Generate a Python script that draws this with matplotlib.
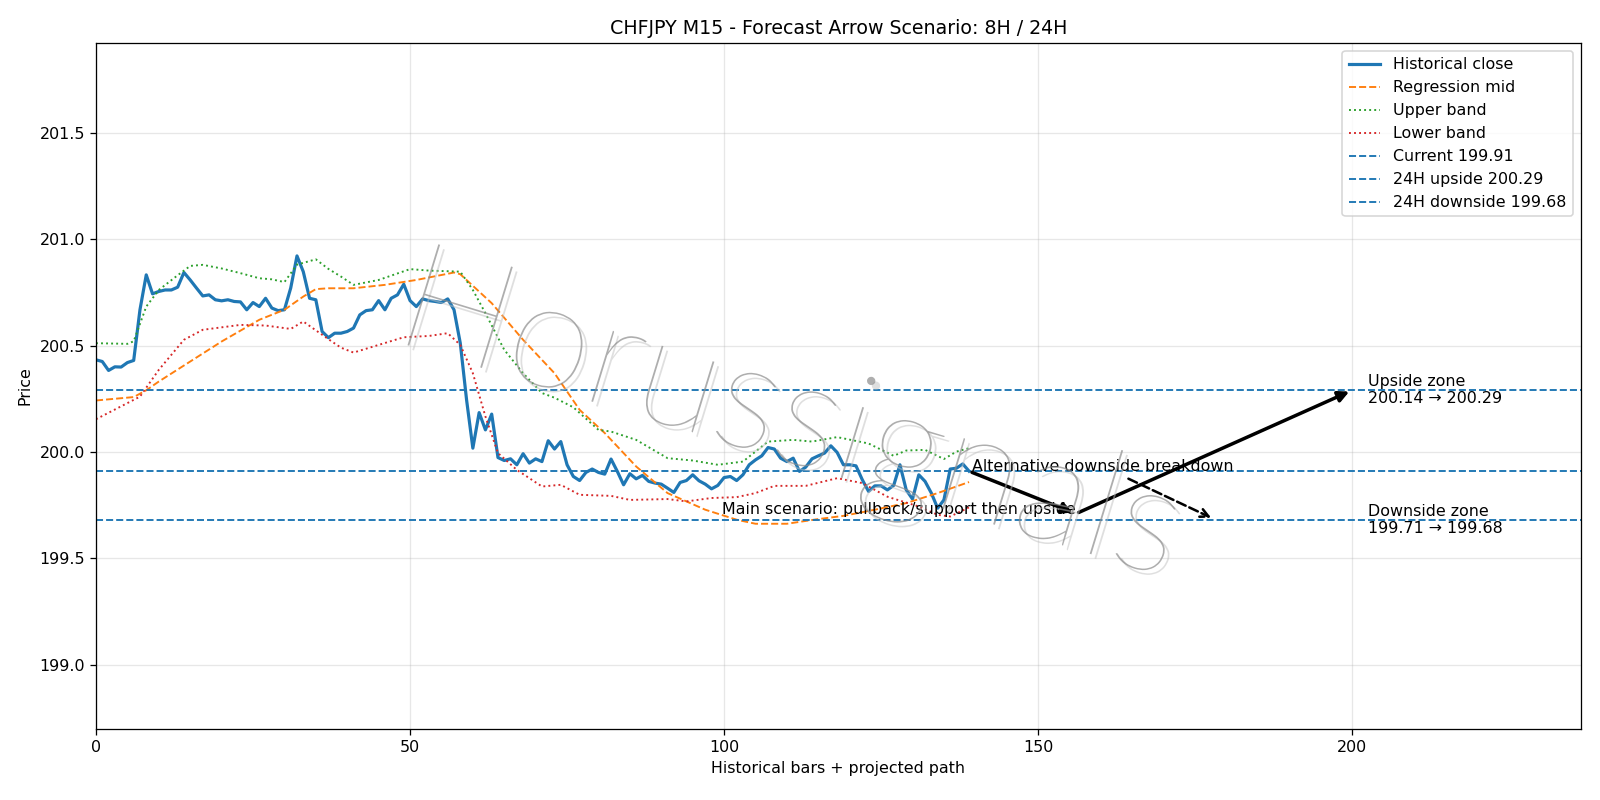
import matplotlib
matplotlib.use("Agg")
import matplotlib.pyplot as plt
import matplotlib.patheffects as pe

# --- data ---
close = [
    200.433, 200.425, 200.383, 200.400, 200.399, 200.420, 200.430, 200.668, 200.832, 200.743,
    200.754, 200.761, 200.761, 200.774, 200.843, 200.808, 200.770, 200.733, 200.738, 200.715,
    200.710, 200.715, 200.707, 200.705, 200.668, 200.702, 200.683, 200.722, 200.676, 200.664,
    200.668, 200.770, 200.921, 200.847, 200.722, 200.715, 200.566, 200.537, 200.558, 200.558,
    200.566, 200.582, 200.644, 200.664, 200.668, 200.711, 200.668, 200.722, 200.738, 200.788,
    200.711, 200.683, 200.719, 200.711, 200.707, 200.702, 200.719, 200.668, 200.511, 200.245,
    200.018, 200.185, 200.104, 200.178, 199.974, 199.960, 199.968, 199.940, 199.992, 199.948,
    199.968, 199.955, 200.053, 200.014, 200.049, 199.940, 199.885, 199.866, 199.904, 199.920,
    199.904, 199.896, 199.967, 199.909, 199.846, 199.898, 199.874, 199.890, 199.862, 199.854,
    199.849, 199.830, 199.810, 199.857, 199.866, 199.893, 199.865, 199.849, 199.827, 199.843,
    199.880, 199.885, 199.866, 199.893, 199.940, 199.963, 199.982, 200.021, 200.014, 199.971,
    199.955, 199.971, 199.909, 199.929, 199.968, 199.982, 199.995, 200.029, 199.998, 199.940,
    199.940, 199.935, 199.870, 199.815, 199.841, 199.841, 199.822, 199.843, 199.940, 199.822,
    199.779, 199.893, 199.862, 199.807, 199.736, 199.775, 199.920, 199.924, 199.944, 199.910,
]

mid_x = [0, 6, 8, 10, 15, 20, 26, 30, 33, 35, 37, 41, 46, 51, 57, 58, 63, 68, 73, 77,
         81, 86, 91, 97, 102, 105, 110, 115, 119, 124, 129, 134, 139]
mid_y = [200.242, 200.258, 200.290, 200.331, 200.425, 200.519, 200.621, 200.668, 200.730, 200.765,
         200.769, 200.769, 200.785, 200.808, 200.843, 200.835, 200.699, 200.527, 200.370, 200.198,
         200.089, 199.932, 199.807, 199.729, 199.682, 199.663, 199.663, 199.685, 199.700, 199.729,
         199.760, 199.807, 199.859]

upper_x = [0, 5, 6, 8, 10, 13, 15, 17, 20, 23, 26, 28, 30, 32, 35, 37, 39, 41, 45, 50,
           53, 58, 60, 62, 65, 68, 71, 73, 76, 80, 82, 86, 91, 95, 99, 103, 107, 111, 114, 118,
           123, 127, 129, 132, 135, 137, 139]
upper_y = [200.511, 200.508, 200.520, 200.683, 200.761, 200.830, 200.874, 200.879, 200.862, 200.840,
           200.816, 200.811, 200.798, 200.880, 200.905, 200.860, 200.824, 200.785, 200.808, 200.859,
           200.852, 200.847, 200.761, 200.652, 200.480, 200.370, 200.277, 200.255, 200.210, 200.104,
           200.096, 200.057, 199.971, 199.960, 199.940, 199.955, 200.049, 200.057, 200.049, 200.070,
           200.040, 199.982, 200.007, 200.010, 199.967, 200.002, 200.018]

lower_x = [0, 7, 10, 14, 17, 23, 27, 31, 33, 37, 39, 41, 45, 49, 53, 56, 58, 60, 62, 64,
           67, 71, 74, 77, 82, 85, 91, 94, 98, 102, 105, 108, 113, 118, 122, 126, 131, 134, 136, 139]
lower_y = [200.154, 200.260, 200.386, 200.527, 200.574, 200.597, 200.594, 200.578, 200.613, 200.530,
           200.490, 200.467, 200.503, 200.539, 200.545, 200.558, 200.503, 200.370, 200.167, 199.995,
           199.916, 199.838, 199.846, 199.799, 199.794, 199.775, 199.779, 199.768, 199.784, 199.788,
           199.807, 199.841, 199.841, 199.877, 199.854, 199.790, 199.744, 199.705, 199.697, 199.740]

current = 199.91
up_lo, up_hi = 200.14, 200.29
dn_hi, dn_lo = 199.71, 199.68

# scenario path points (bar index, price)
main_pivot = (156, 199.71)
main_target = (200, 200.29)
alt_target = (178, 199.685)

last_x = len(close) - 1

fig, ax = plt.subplots(figsize=(14, 7), dpi=1600 / 14)
fig.subplots_adjust(left=0.06, right=0.988, top=0.946, bottom=0.089)

ax.plot(range(len(close)), close, color="C0", lw=2, label="Historical close")
ax.plot(mid_x, mid_y, color="C1", ls="--", lw=1.2, label="Regression mid")
ax.plot(upper_x, upper_y, color="C2", ls=":", lw=1.2, label="Upper band")
ax.plot(lower_x, lower_y, color="C3", ls=":", lw=1.2, label="Lower band")
ax.axhline(current, color="C0", ls="--", lw=1.2, label=f"Current {current:.2f}")
ax.axhline(up_hi, color="C0", ls="--", lw=1.2, label=f"24H upside {up_hi:.2f}")
ax.axhline(dn_lo, color="C0", ls="--", lw=1.2, label=f"24H downside {dn_lo:.2f}")

# main scenario arrows
ax.annotate("", xy=main_pivot, xytext=(last_x, close[-1]),
            arrowprops=dict(arrowstyle="-|>", color="black", lw=2.2, mutation_scale=14))
ax.annotate("", xy=main_target, xytext=main_pivot,
            arrowprops=dict(arrowstyle="-|>", color="black", lw=2.2, mutation_scale=14))
ax.text(main_pivot[0], main_pivot[1], "Main scenario: pullback/support then upside",
        ha="right", va="baseline", fontsize=10)

# alternative path
ax.annotate("Alternative downside breakdown", xy=alt_target, xytext=(last_x + 0.5, current),
            fontsize=10,
            arrowprops=dict(arrowstyle="->", color="black", lw=1.6, ls="--", mutation_scale=13))

ax.text(202.5, up_hi, f"Upside zone\n{up_lo:.2f} → {up_hi:.2f}", va="center", fontsize=10)
ax.text(202.5, dn_lo, f"Downside zone\n{dn_hi:.2f} → {dn_lo:.2f}", va="center", fontsize=10)

# watermark
ax.text(110.5, 200.15, "Horussignals", fontsize=95, rotation=-17, ha="center", va="center",
        family=["Lato", "DejaVu Sans"], fontweight="light", color="#8c8c8c", alpha=0.7, zorder=6,
        path_effects=[pe.SimplePatchShadow(offset=(3, -3), shadow_rgbFace="#c0c0c0", alpha=0.5),
                      pe.Normal()])

ax.set_xlim(0, 236.4)
ax.set_ylim(198.70, 201.92)
ax.set_title("CHFJPY M15 - Forecast Arrow Scenario: 8H / 24H", fontsize=12)
ax.set_xlabel("Historical bars + projected path")
ax.set_ylabel("Price")
ax.grid(alpha=0.3)
ax.legend(loc="upper right")

plt.savefig("out.png", dpi=1600 / 14)
plt.close()
